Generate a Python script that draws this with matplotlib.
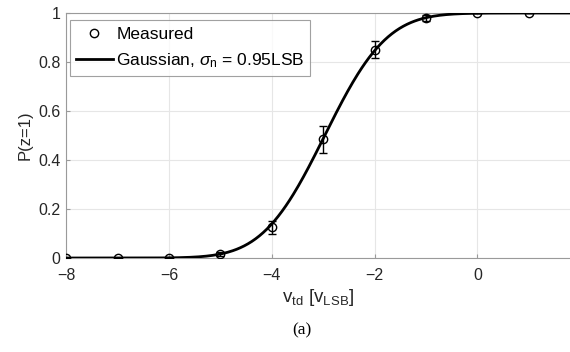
import math
import numpy as np
import matplotlib
matplotlib.use("Agg")
import matplotlib.pyplot as plt
from matplotlib.lines import Line2D

# measured points
v_meas = [-8, -7, -6, -5, -4, -3, -2, -1, 0, 1]
p_meas = [0.0, 0.0, 0.0, 0.015, 0.125, 0.485, 0.85, 0.98, 1.0, 1.0]
p_err = [0.0, 0.0, 0.0, 0.008, 0.028, 0.055, 0.035, 0.012, 0.0, 0.0]

# gaussian model (sigma from the legend, centre)
mu = -2.97
sigma_n = 0.95

plt.rcParams['font.family'] = ['Liberation Sans', 'DejaVu Sans']
plt.rcParams['mathtext.fontset'] = 'custom'
plt.rcParams['mathtext.rm'] = 'Liberation Sans'
plt.rcParams['mathtext.it'] = 'Liberation Sans:italic'

fig = plt.figure(figsize=(5.7, 3.52), dpi=100)
ax = fig.add_axes([0.116, 0.267, 0.884, 0.696])

v_fit = np.linspace(-8, 1.8, 400)
p_fit = [0.5 * (1 + math.erf((v - mu) / (sigma_n * math.sqrt(2)))) for v in v_fit]

ax.errorbar(v_meas, p_meas, yerr=p_err, fmt='o', color='black', mfc='none',
            ms=6, mew=1.0, elinewidth=1.0, capsize=3, zorder=3)
ax.plot(v_fit, p_fit, color='black', lw=2, zorder=4)

ax.set_xlim(-8, 1.8)
ax.set_ylim(0, 1)
ax.set_xticks([-8, -6, -4, -2, 0])
ax.set_yticks([0, 0.2, 0.4, 0.6, 0.8, 1])
ax.set_yticklabels(['0', '0.2', '0.4', '0.6', '0.8', '1'])
ax.grid(True, color='#e6e6e6', lw=0.8)
ax.set_axisbelow(True)
ax.spines['right'].set_visible(False)
for s in ['left', 'bottom', 'top']:
    ax.spines[s].set_color('#9a9a9a')
ax.tick_params(direction='in', length=3, color='#9a9a9a', labelsize=11.5,
               labelcolor='#262626')
ax.tick_params(axis='x', pad=7)
ax.tick_params(axis='y', pad=4)

ax.set_xlabel(r'v$_{\rm td}$ [v$_{\rm LSB}$]', fontsize=13.5, color='#262626', labelpad=3)
ax.set_ylabel('P(z=1)', fontsize=12, color='#262626', labelpad=4)

handles = [Line2D([], [], ls='none', marker='o', mfc='none', color='black', ms=6, mew=1.0),
           Line2D([], [], color='black', lw=2)]
labels = ['Measured', r'Gaussian, $\sigma_{\rm n}$ = 0.95LSB']
leg = ax.legend(handles, labels, loc='upper left', fontsize=12.5, frameon=True, fancybox=False,
                edgecolor='#8a8a8a', borderpad=0.35, handlelength=2.1,
                handletextpad=0.2, labelspacing=0.55, borderaxespad=0,
                bbox_to_anchor=(0.008, 0.97))
leg.get_frame().set_linewidth(0.8)

fig.text(0.53, 0.062, '(a)', ha='center', va='center', fontsize=12.5,
         family=['Liberation Serif', 'DejaVu Serif'])

fig.savefig('out.png', dpi=100)
